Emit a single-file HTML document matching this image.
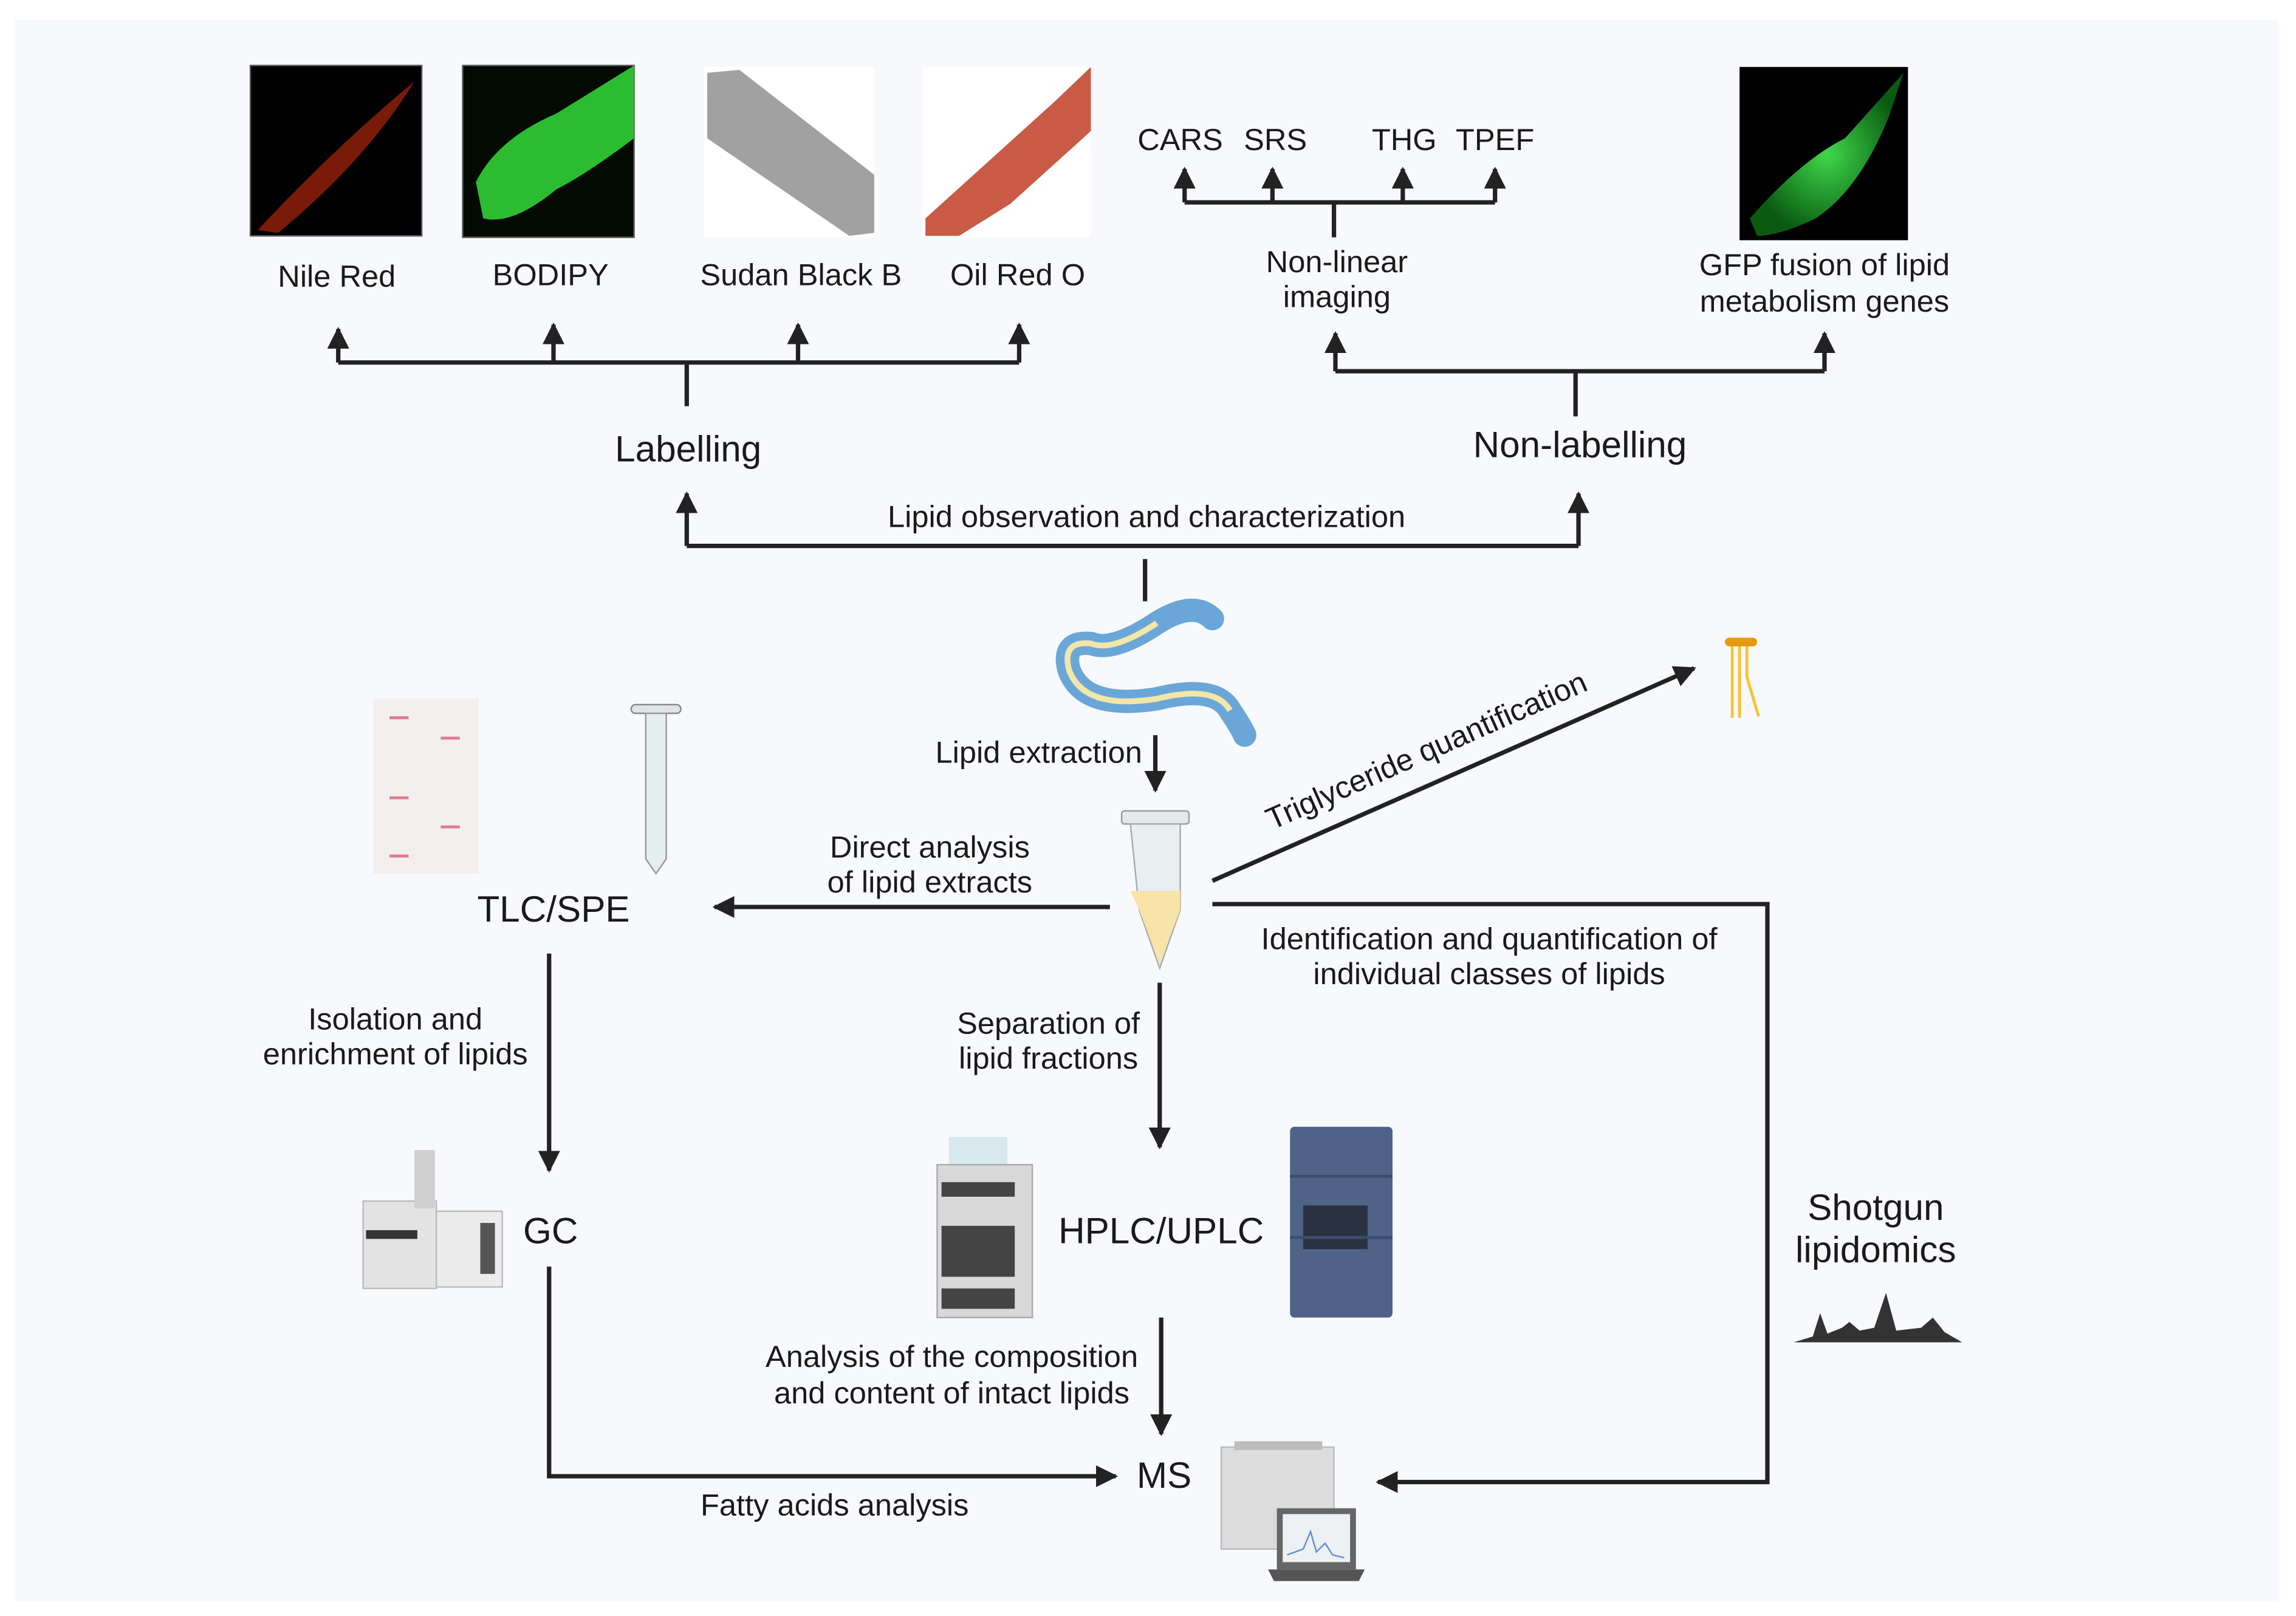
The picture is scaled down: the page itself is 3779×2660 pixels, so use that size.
<!DOCTYPE html>
<html><head><meta charset="utf-8"><style>
html,body{margin:0;padding:0;background:#fff;}
svg{display:block;}
text{font-family:"Liberation Sans",sans-serif;fill:#1a1a1a;}
</style></head><body>
<svg width="3779" height="2660" viewBox="0 0 1568 1110" preserveAspectRatio="none" xmlns="http://www.w3.org/2000/svg">
<defs>
<marker id="ah" viewBox="0 0 10 10" refX="9" refY="5" markerWidth="5" markerHeight="5" orient="auto" markerUnits="strokeWidth"><path d="M0,0 L10,5 L0,10 z" fill="#222"/></marker>
<radialGradient id="gfp" cx="0.5" cy="0.5" r="0.5"><stop offset="0" stop-color="#3fd84a"/><stop offset="1" stop-color="#0a5a12"/></radialGradient>
</defs>
<rect x="0" y="0" width="1568" height="1110" fill="#fff"/>
<rect x="10" y="14" width="1546" height="1086" fill="#f8f9fd"/>

<g stroke="#222" stroke-width="3" fill="none">
<path d="M231,249 H696 M469,249 V279"/>
<path d="M231,249 V226" marker-end="url(#ah)"/>
<path d="M378,249 V223" marker-end="url(#ah)"/>
<path d="M545,249 V223" marker-end="url(#ah)"/>
<path d="M696,249 V223" marker-end="url(#ah)"/>
<path d="M809,139 H1021 M911,139 V163"/>
<path d="M809,139 V116" marker-end="url(#ah)"/>
<path d="M869,139 V116" marker-end="url(#ah)"/>
<path d="M958,139 V116" marker-end="url(#ah)"/>
<path d="M1021,139 V116" marker-end="url(#ah)"/>
<path d="M912,255 H1246 M1076,255 V286"/>
<path d="M912,255 V229" marker-end="url(#ah)"/>
<path d="M1246,255 V229" marker-end="url(#ah)"/>
<path d="M469,375 H1078 M782,384 V413"/>
<path d="M469,375 V339" marker-end="url(#ah)"/>
<path d="M1078,375 V339" marker-end="url(#ah)"/>
<path d="M789,505 V543" marker-end="url(#ah)"/>
<path d="M828,605 L1157,459" marker-end="url(#ah)"/>
<path d="M758,623 H488" marker-end="url(#ah)"/>
<path d="M828,621 H1207 V1018 H941" marker-end="url(#ah)"/>
<path d="M792,675 V788" marker-end="url(#ah)"/>
<path d="M375,655 V804" marker-end="url(#ah)"/>
<path d="M793,905 V985" marker-end="url(#ah)"/>
<path d="M375,870 V1014 H762" marker-end="url(#ah)"/>
</g>

<rect x="171" y="45" width="117" height="117" fill="#000" stroke="#555" stroke-width="1"/>
<path d="M176,158 Q230,100 283,56 Q250,110 190,160 z" fill="#7a1a08"/>
<rect x="316" y="45" width="117" height="118" fill="#020a02" stroke="#555" stroke-width="1"/>
<path d="M325,125 Q340,95 380,78 L433,45 L433,95 Q400,120 380,130 Q350,155 330,150 z" fill="#2bbd2f"/>
<rect x="481" y="46" width="116" height="117" fill="#fff"/>
<path d="M483,50 L505,48 L597,120 L597,160 L580,162 L483,95 z" fill="#8a8a8a" opacity="0.8"/>
<rect x="630" y="46" width="115" height="117" fill="#fff"/>
<path d="M632,150 L720,70 L745,46 L745,90 L690,140 L655,162 L632,162 z" fill="#c95a45"/>
<rect x="1188" y="46" width="115" height="119" fill="#000"/>
<path d="M1195,150 Q1230,110 1260,95 L1300,50 L1290,80 Q1270,130 1240,150 Q1215,162 1200,162 z" fill="url(#gfp)"/>

<g font-size="21" text-anchor="middle">
<text x="230" y="197">Nile Red</text>
<text x="376" y="196">BODIPY</text>
<text x="547" y="196">Sudan Black B</text>
<text x="695" y="196">Oil Red O</text>
<text x="806" y="103">CARS</text>
<text x="871" y="103">SRS</text>
<text x="959" y="103">THG</text>
<text x="1021" y="103">TPEF</text>
<text x="913" y="187">Non-linear</text>
<text x="913" y="211">imaging</text>
<text x="1246" y="189">GFP fusion of lipid</text>
<text x="1246" y="214">metabolism genes</text>
<text x="783" y="362">Lipid observation and characterization</text>
<text x="635" y="589">Direct analysis</text>
<text x="635" y="613">of lipid extracts</text>
<text x="1017" y="652">Identification and quantification of</text>
<text x="1017" y="676">individual classes of lipids</text>
<text x="716" y="710">Separation of</text>
<text x="716" y="734">lipid fractions</text>
<text x="270" y="707">Isolation and</text>
<text x="270" y="731">enrichment of lipids</text>
<text x="650" y="939">Analysis of the composition</text>
<text x="650" y="964">and content of intact lipids</text>
<text x="570" y="1041">Fatty acids analysis</text>
</g>
<text x="780" y="524" font-size="21" text-anchor="end">Lipid extraction</text>
<text x="977" y="522" font-size="21" text-anchor="middle" transform="rotate(-24 977 522)">Triglyceride quantification</text>
<g font-size="25" text-anchor="middle">
<text x="470" y="317">Labelling</text>
<text x="1079" y="314">Non-labelling</text>
<text x="378" y="633">TLC/SPE</text>
<text x="376" y="854">GC</text>
<text x="793" y="854">HPLC/UPLC</text>
<text x="795" y="1022">MS</text>
<text x="1281" y="838">Shotgun</text>
<text x="1281" y="867">lipidomics</text>
</g>

<!-- worm: S shape -->
<path d="M828,425 Q815,412 790,428 Q760,448 745,442 Q725,440 730,460 Q740,488 790,480 Q830,470 840,488 Q848,500 850,505" stroke="#6aa7d8" stroke-width="16" fill="none" stroke-linecap="round"/>
<path d="M790,428 Q760,448 745,442 Q725,440 730,460 Q740,488 790,480 Q830,470 840,488" stroke="#f2e6a8" stroke-width="4" fill="none"/>
<rect x="766" y="557" width="46" height="9" rx="2" fill="#e4eaec" stroke="#999"/>
<path d="M772,566 H806 V625 L792,665 L778,625 z" fill="#e9eef0" stroke="#aaa"/>
<path d="M772,612 H806 V625 L792,662 L778,625 z" fill="#f8e3a8"/>
<rect x="1178" y="438" width="22" height="6" rx="3" fill="#e69a10"/>
<path d="M1183,444 V493 M1188,444 V493 M1193,444 V465 L1201,492" stroke="#f6c433" stroke-width="2" fill="none"/>
<rect x="255" y="480" width="72" height="120" fill="#f3efee"/>
<g stroke="#e07a8e" stroke-width="2"><path d="M266,493 H279 M301,507 H314 M266,548 H279 M301,568 H314 M266,588 H279"/></g>
<rect x="431" y="484" width="34" height="6" rx="3" fill="#dde3e6" stroke="#888"/>
<path d="M441,490 H455 V590 L448,600 L441,590 z" fill="#e6eef2" stroke="#999"/>
<rect x="248" y="825" width="50" height="60" fill="#e3e3e3" stroke="#bbb"/>
<rect x="298" y="832" width="45" height="52" fill="#ececec" stroke="#bbb"/>
<rect x="283" y="790" width="14" height="40" fill="#cfcfcf"/>
<rect x="250" y="845" width="35" height="6" fill="#333"/>
<rect x="328" y="840" width="10" height="35" fill="#555"/>
<rect x="648" y="781" width="40" height="20" fill="#d7e8ee"/>
<rect x="640" y="800" width="65" height="105" fill="#d8d8d8" stroke="#aaa"/>
<rect x="643" y="812" width="50" height="10" fill="#444"/>
<rect x="643" y="842" width="50" height="35" fill="#444"/>
<rect x="643" y="885" width="50" height="14" fill="#444"/>
<rect x="881" y="774" width="70" height="131" rx="3" fill="#4e6387"/>
<rect x="890" y="828" width="44" height="30" fill="#2a3240"/>
<path d="M881,808 H951 M881,850 H951" stroke="#3b4d6c" stroke-width="2"/>
<rect x="834" y="994" width="77" height="70" fill="#dcdcdc" stroke="#bbb"/>
<rect x="843" y="990" width="60" height="6" fill="#bdbdbd"/>
<rect x="872" y="1036" width="54" height="42" fill="#666"/>
<rect x="876" y="1040" width="46" height="33" fill="#eef1f4"/>
<path d="M879,1068 L890,1064 L895,1052 L899,1066 L905,1060 L910,1068 L918,1070" stroke="#5b8fd6" fill="none"/>
<path d="M866,1078 H932 L928,1086 H870 z" fill="#555"/>
<path d="M1225,922 L1238,918 L1243,902 L1248,916 L1258,912 L1263,908 L1270,914 L1280,912 L1288,888 L1295,914 L1312,912 L1320,905 L1328,915 L1340,922 z" fill="#333"/>
</svg>
</body></html>
